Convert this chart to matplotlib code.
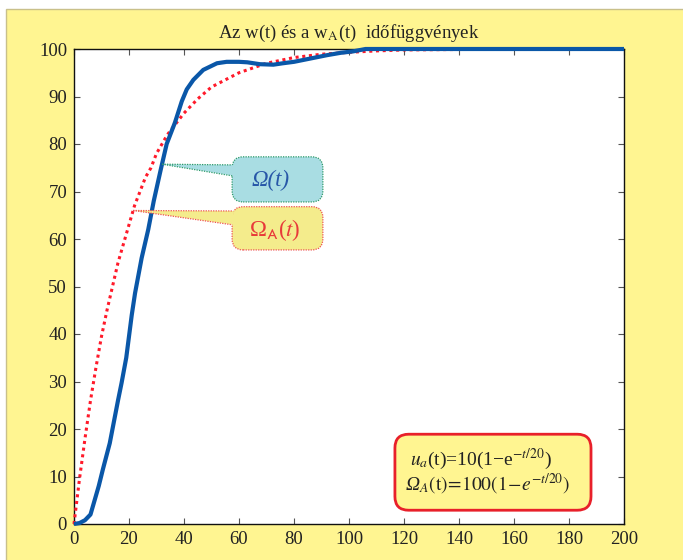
import numpy as np
import matplotlib
matplotlib.use("Agg")
import matplotlib.pyplot as plt
from matplotlib.patches import FancyBboxPatch, Polygon, Rectangle

plt.rcParams['font.family'] = ['Liberation Serif', 'DejaVu Serif']
plt.rcParams['mathtext.fontset'] = 'stix'

# omega(t) - measured (blue)
blue_t = [0, 2, 4, 6, 7, 9, 10.5, 13, 14, 16, 17.3, 19, 21, 22.2, 24.6, 27, 29,
          31.5, 33.7, 36.7, 39.2, 41, 43.4, 47, 52, 55.5, 60, 63, 67.6, 72.5,
          76, 80, 86, 92, 97, 101.5, 106, 120, 150, 200]
blue_v = [0, 0.2, 0.8, 2, 4, 8, 11.5, 17, 20, 26, 29.7, 35, 44, 48.6, 56, 62, 68,
          74.5, 80, 84.5, 89, 91.5, 93.5, 95.6, 97, 97.3, 97.3, 97.2, 96.8, 96.7,
          97, 97.3, 98, 98.7, 99.2, 99.5, 100, 100, 100, 100]

# omega_A(t) - model (red dotted)
red_t = [0, 2, 4, 6, 8, 10, 12, 14, 16, 18, 20, 22, 24, 26, 28, 30, 32, 34, 36,
         38, 40, 45, 50, 55, 60, 65, 70, 75, 80, 90, 100, 110, 120, 140, 160, 180, 200]
red_v = [0, 9.5, 18, 26, 33, 39.5, 45, 50, 55, 59, 63, 67, 70, 73, 75, 78, 80, 82,
         83.5, 85, 86.5, 89.5, 92, 93.5, 95, 96, 97, 97.6, 98.2, 98.9, 99.3, 99.6,
         99.8, 99.9, 99.9, 99.9, 99.9]

xticks = list(range(0, 201, 20))
yticks = list(range(0, 101, 10))

yellow = '#fff591'
blue = '#0a57a8'
red = '#ff1a2a'

fig = plt.figure(figsize=(6.83, 5.6), dpi=100, facecolor='white')
fig.patches.append(Rectangle((6 / 683, -0.01), 1.0, 1 - 9 / 560 + 0.01,
                             transform=fig.transFigure, facecolor=yellow,
                             edgecolor='#c9c08a', linewidth=1.0, zorder=-10))

ax = fig.add_axes([74 / 683, 1 - 524 / 560, 550 / 683, 475 / 560])
ax.set_facecolor('white')

ax.plot(blue_t, blue_v, color=blue, linewidth=3.0, clip_on=False, zorder=4,
        solid_capstyle='butt')
ax.plot(red_t, red_v, color=red, linewidth=2.2, linestyle=(0, (1, 1.2)),
        clip_on=False, zorder=3)

ax.set_xlim(0, 200)
ax.set_ylim(0, 100)
ax.set_xticks(xticks)
ax.set_yticks(yticks)
ax.tick_params(direction='in', length=4, width=0.8, color='#555555',
               labelsize=13.5, top=True, right=True, pad=5,
               labelcolor='#222222')
for s in ax.spines.values():
    s.set_linewidth(1.0)
    s.set_color('#111111')

ax.set_title('Az w(t) és a w$_\\mathrm{A}$(t)  időfüggvények', fontsize=13.5,
             pad=8, color='#222222')

asp = 2.75 / 4.75


def callout(x0, x1, y0, y1, tip, base, face, edge, curve_t, curve_v):
    box = FancyBboxPatch((x0, y1), x1 - x0, y0 - y1,
                         boxstyle='round,pad=0,rounding_size=4',
                         mutation_aspect=asp, facecolor=face, edgecolor=edge,
                         linewidth=0.9, linestyle=(0, (1, 1)), zorder=5)
    ax.add_patch(box)
    tx = tip
    ty = float(np.interp(tip, curve_t, curve_v))
    wedge = Polygon([(tx, ty), (x0 + 0.6, base[0]), (x0 + 0.6, base[1])],
                    closed=True, facecolor=face, edgecolor='none', zorder=6)
    ax.add_patch(wedge)
    for b in base:
        ax.plot([tx, x0], [ty, b], color=edge, linewidth=0.9,
                linestyle=(0, (1, 1)), zorder=6)


callout(57.5, 90.5, 77.3, 67.8, 32, (75.6, 73.3), '#a9dde3', '#2e9a6a',
        blue_t, blue_v)
ax.text(71.5, 72.3, 'Ω(t)', fontsize=16.5, style='italic', color='#2757a8',
        ha='center', va='center', zorder=7)

callout(57.5, 90.5, 66.8, 57.7, 21.5, (65.9, 63.0), '#f4ec8c', '#ee5050',
        red_t, red_v)
ax.text(73, 61.8, 'Ω$_{\\mathrm{\\mathsf{A}}}$($t$)', fontsize=16.5,
        color='#e83a3a', ha='center', va='center', zorder=7)

fbox = FancyBboxPatch((116.7, 2.9), 188 - 116.7, 18.9 - 2.9,
                      boxstyle='round,pad=0,rounding_size=5',
                      mutation_aspect=asp, facecolor=yellow, edgecolor='#e8202a',
                      linewidth=2.0, zorder=5)
ax.add_patch(fbox)
ax.text(122.3, 13.5, '$u_a$(t)=10(1−e$^{-t/20}$)', fontsize=14,
        color='#222222', ha='left', va='center', zorder=7)
ax.text(120.3, 8.4, 'Ω$_A\\mathrm{(t)}\\!=\\!\\mathrm{100(1}\\!-\\!e^{-t/20}\\mathrm{)}$',
        fontsize=14, style='italic', color='#222222', ha='left', va='center',
        zorder=7)

fig.savefig('out.png', dpi=100, facecolor=fig.get_facecolor())
